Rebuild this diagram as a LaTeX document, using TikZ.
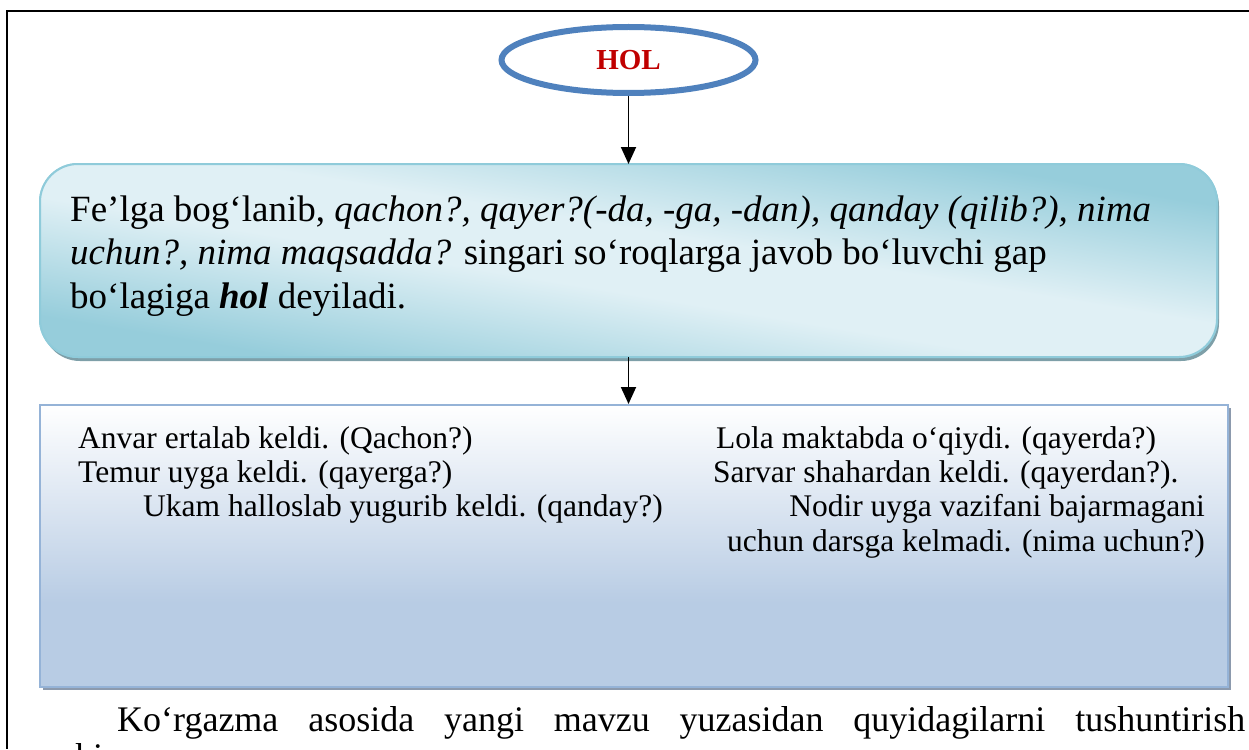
\documentclass[tikz,border=0pt]{standalone}
\usepackage{fontspec}
\setmainfont{Liberation Serif}
\usetikzlibrary{shapes.geometric,arrows.meta,shadows}
\definecolor{holblue}{HTML}{4F81BD}
\definecolor{holred}{HTML}{C00000}
\definecolor{tealdark}{HTML}{96CDDB}
\definecolor{teallight}{HTML}{E0F0F5}
\definecolor{tealborder}{HTML}{8FCBDA}
\definecolor{tealshadow}{HTML}{7E9FA8}
\definecolor{bluebot}{HTML}{B8CCE4}
\definecolor{blueborder}{HTML}{95B3D7}
\definecolor{blueshadow}{HTML}{8C9AAD}
\pgfdeclareverticalshading{tealband}{100bp}{color(0bp)=(tealdark); color(22bp)=(tealdark); color(44bp)=(teallight); color(56bp)=(teallight); color(78bp)=(tealdark); color(100bp)=(tealdark)}
\pgfdeclareverticalshading{bluefade}{100bp}{color(0bp)=(bluebot); color(25bp)=(bluebot); color(40bp)=(bluebot); color(75bp)=(white); color(100bp)=(white)}
\tikzset{
  arr/.style={line width=1.8pt, -{Triangle[width=15pt,length=17pt]}},
  bigtxt/.style={anchor=base west, inner sep=0pt, font=\fontsize{37}{43}\selectfont},
  smalltxt/.style={anchor=base west, inner sep=0pt, font=\fontsize{31.5}{34}\selectfont},
  smalltxtr/.style={anchor=base east, inner sep=0pt, font=\fontsize{31.5}{34}\selectfont},
  frameline/.style={line width=1.8pt, black},
  tealbox/.style={rectangle, rounded corners=38pt, outer sep=0pt, draw=tealborder, line width=2pt, fill=teallight},
}
\begin{document}
\begin{tikzpicture}[x=1pt,y=-1pt]
\useasboundingbox (0,0) rectangle (1249,749);
\clip (0,0) rectangle (1249,749);
% frame
\coordinate (fTL) at (7,11);
\coordinate (fTR) at (1249,11);
\coordinate (fBL) at (7,749);
\draw[frameline] (fTR) -- (fTL) -- (fBL);
% ellipse
\node[ellipse, draw=holblue, line width=6pt, fill=white, minimum width=254pt, minimum height=66pt, inner sep=0pt]
  (hol) at (628.5,60) {\raisebox{-4pt}{\fontsize{29}{29}\selectfont\bfseries\color{holred}HOL}};
% box 1
\node[tealbox, minimum width=1177pt, minimum height=193pt,
  drop shadow={shadow xshift=2pt, shadow yshift=-4pt, fill=tealshadow, opacity=1}]
  (box1) at (628.5,260.5) {};
\begin{scope}
  \clip[rounded corners=38pt] (box1.north west) rectangle (box1.south east);
  \begin{scope}[transform canvas={shift={(628.5,260.5)}, xscale=5.885, yscale=0.965}]
    \shade[shading=tealband, shading angle=-45] (-100,-100) rectangle (100,100);
  \end{scope}
\end{scope}
\draw[tealborder, line width=2pt, rounded corners=38pt] (box1.north west) rectangle (box1.south east);
\node[bigtxt] (l1) at (70,221) {Fe’lga bog‘lanib, \textit{qachon?, qayer?(-da, -ga, -dan), qanday (qilib?), nima}};
\node[bigtxt] (l2) at (70,264.5) {\textit{uchun?, nima maqsadda?} singari so‘roqlarga javob bo‘luvchi gap};
\node[bigtxt] (l3) at (70,308) {bo‘lagiga \textbf{\textit{hol}} deyiladi.};
% box 2
\node[rectangle, minimum width=1188pt, minimum height=282pt, draw=blueborder, line width=2pt,
  shading=bluefade,
  drop shadow={shadow xshift=3pt, shadow yshift=-3pt, fill=blueshadow, opacity=1}]
  (box2) at (634,546) {};
\node[smalltxt] (a1) at (78,448) {Anvar ertalab keldi. (Qachon?)};
\node[smalltxt] (a2) at (78,482) {Temur uyga keldi. (qayerga?)};
\node[smalltxt] (a3) at (143,516.5) {Ukam halloslab yugurib keldi. (qanday?)};
\node[smalltxt] (b1) at (716,448) {Lola maktabda o‘qiydi. (qayerda?)};
\node[smalltxt] (b2) at (713,482) {Sarvar shahardan keldi. (qayerdan?).};
\node[smalltxtr] (b3) at (1205,516.5) {Nodir uyga vazifani bajarmagani};
\node[smalltxtr] (b4) at (1205,551) {uchun darsga kelmadi. (nima uchun?)};
% arrows
\draw[arr] (hol.south) -- (box1.north);
\draw[arr] (box1.south) -- (box1.south |- box2.north);
% paragraph below
\node[anchor=base west, inner sep=0pt, font=\fontsize{36}{43}\selectfont] (para) at (117,731)
  {\makebox[1128pt][s]{Ko‘rgazma asosida yangi mavzu yuzasidan quyidagilarni tushuntirish}};
\node[anchor=base west, inner sep=0pt, font=\fontsize{36}{43}\selectfont] (para2) at (75,768) {ki};
\end{tikzpicture}
\end{document}
